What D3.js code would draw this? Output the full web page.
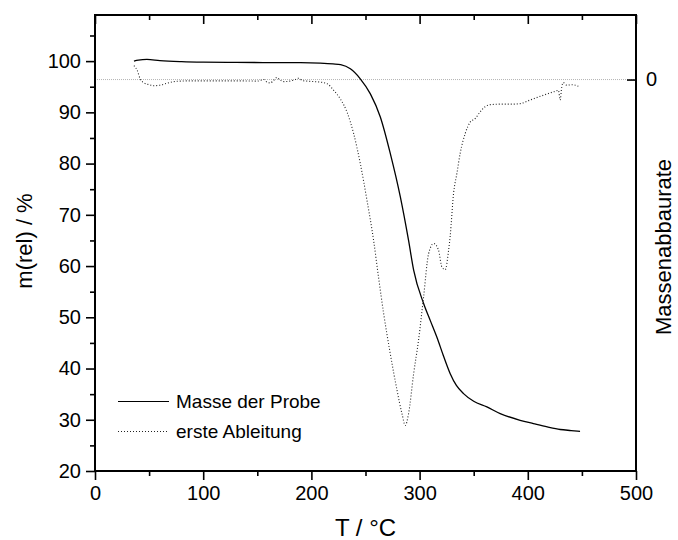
<!DOCTYPE html>
<html><head><meta charset="utf-8">
<script src="https://cdn.jsdelivr.net/npm/d3@7"></script>
<style>
html,body{margin:0;padding:0;background:#fff;}
text{font-family:"Liberation Sans",Arial,sans-serif;fill:#000;}
</style>
</head><body>
<svg id="chart" width="678" height="540"></svg>
<script>
// ---- data ----
const massT = [36, 40, 48, 60, 80, 100, 130, 160, 190, 208, 220, 227, 236, 245, 254.5, 263.7, 273, 282.2, 289.8, 294.5, 303.7, 310, 316, 322, 328.3, 334, 340.6, 350, 362.2, 374.5, 392.9, 405.2, 418, 429.9, 440, 448.3];
const massV = [100.0, 100.2, 100.33, 100.1, 99.9, 99.8, 99.75, 99.72, 99.7, 99.6, 99.45, 99.3, 98.5, 96.6, 93.6, 89.1, 81.9, 73.5, 65.0, 59.2, 52.7, 49.3, 46.1, 42.5, 39.0, 36.7, 35.1, 33.6, 32.5, 31.2, 29.9, 29.25, 28.6, 28.1, 27.9, 27.75];

const derivT = [36, 39, 42, 45, 50, 54.5, 60, 67, 75, 90, 110, 130, 150, 156, 159, 162, 165, 168, 171, 174.5, 180, 185, 188, 192, 196, 203, 208, 214.5, 220.6, 226.8, 233, 239, 245.2, 251.4, 257.5, 262, 266.8, 272.9, 279.1, 283.7, 286.8, 289.8, 294.5, 299, 303.7, 308.3, 313, 317.5, 320.6, 323.7, 326.8, 328.3, 331.4, 334.5, 337.5, 342.2, 346.8, 351.4, 356, 360.6, 365.2, 375, 385, 393, 402, 414.4, 423.7, 428.3, 429.9, 431.4, 432.9, 436, 441, 446.7];
const derivV = [2.7, 1.8, 0.0, -0.6, -1.0, -1.2, -1.1, -0.7, -0.35, -0.25, -0.25, -0.25, -0.3, 0.0, -0.5, -0.65, -0.2, 0.4, -0.1, -0.4, -0.3, 0.0, 0.25, -0.2, -0.3, -0.4, -0.5, -0.8, -2.1, -3.8, -6.4, -10.5, -16.4, -23.6, -31.4, -38.5, -45.7, -53.5, -60.6, -65.2, -67.5, -65.2, -57.4, -50.9, -42.4, -34, -32, -33.3, -36.6, -37.1, -33.3, -30.5, -22.2, -18.3, -14.4, -10.5, -8.3, -7.6, -6.3, -5.3, -4.9, -4.8, -4.8, -4.7, -4.0, -3.06, -2.4, -2.1, -4.0, -1.4, -0.6, -1.1, -1.0, -1.3];

const xMajor = [0, 100, 200, 300, 400, 500];
const xMinor = [50, 150, 250, 350, 450];
const yMajor = [20, 30, 40, 50, 60, 70, 80, 90, 100];
const yMinor = [25, 35, 45, 55, 65, 75, 85, 95, 105];
const rTicks = [0];
const xDomain = [0, 500];
const yDomain = [20, 109];
const rDomain = [-76.4, 12.6];

const xTitle = "T / °C";
const yTitle = "m(rel) / %";
const rTitle = "Massenabbaurate";
const legendLabels = ["Masse der Probe", "erste Ableitung"];

// ---- layout ----
const L = 95, T = 15, R = 636, B = 471;
const svg = d3.select("#chart");
const x = d3.scaleLinear().domain(xDomain).range([L, R]);
const y = d3.scaleLinear().domain(yDomain).range([B, T]);
const yr = d3.scaleLinear().domain(rDomain).range([B, T]);

// zero line of derivative
svg.append("line")
  .attr("x1", L).attr("x2", R)
  .attr("y1", yr(0)).attr("y2", yr(0))
  .attr("stroke", "#b4b4b4").attr("stroke-width", 1)
  .attr("stroke-dasharray", "1,1");

function styleAxis(g, fs) {
  g.select(".domain").remove();
  g.selectAll(".tick line").attr("stroke", "#000").attr("stroke-width", 1.6);
  g.selectAll("text").attr("font-size", fs).attr("font-family", "Liberation Sans, Arial, sans-serif").attr("fill", "#000");
}

// bottom
svg.append("g").attr("transform", `translate(0,${B})`)
  .call(d3.axisBottom(x).tickValues(xMajor).tickSize(9).tickPadding(6).tickFormat(d3.format("d")))
  .call(g => styleAxis(g, 20));
svg.append("g").attr("transform", `translate(0,${B})`)
  .call(d3.axisBottom(x).tickValues(xMinor).tickSize(5).tickFormat(""))
  .call(g => styleAxis(g, 20));
// top (inward)
svg.append("g").attr("transform", `translate(0,${T})`)
  .call(d3.axisTop(x).tickValues(xMajor).tickSize(-9).tickFormat(""))
  .call(g => styleAxis(g, 20));
svg.append("g").attr("transform", `translate(0,${T})`)
  .call(d3.axisTop(x).tickValues(xMinor).tickSize(-5).tickFormat(""))
  .call(g => styleAxis(g, 20));
// left
svg.append("g").attr("transform", `translate(${L},0)`)
  .call(d3.axisLeft(y).tickValues(yMajor).tickSize(9).tickPadding(5).tickFormat(d3.format("d")))
  .call(g => styleAxis(g, 20));
svg.append("g").attr("transform", `translate(${L},0)`)
  .call(d3.axisLeft(y).tickValues(yMinor).tickSize(5).tickFormat(""))
  .call(g => styleAxis(g, 20));
// right
svg.append("g").attr("transform", `translate(${R},0)`)
  .call(d3.axisRight(yr).tickValues(rTicks).tickSize(-9).tickPadding(10).tickFormat(d3.format("d")))
  .call(g => styleAxis(g, 20));

// frame
svg.append("rect").attr("x", L).attr("y", T).attr("width", R - L).attr("height", B - T)
  .attr("fill", "none").attr("stroke", "#000").attr("stroke-width", 2);

// curves
const massData = massT.map((t, i) => ({ t, v: massV[i] }));
const derivData = derivT.map((t, i) => ({ t, v: derivV[i] }));

svg.append("path").datum(massData)
  .attr("fill", "none").attr("stroke", "#000").attr("stroke-width", 1.3)
  .attr("d", d3.line().x(d => x(d.t)).y(d => y(d.v)).curve(d3.curveMonotoneX));

svg.append("path").datum(derivData)
  .attr("fill", "none").attr("stroke", "#222").attr("stroke-width", 1.1)
  .attr("stroke-dasharray", "1,2")
  .attr("d", d3.line().x(d => x(d.t)).y(d => yr(d.v)).curve(d3.curveMonotoneX));

// legend
const lg = svg.append("g");
lg.append("line").attr("x1", 118).attr("x2", 169).attr("y1", 401.5).attr("y2", 401.5)
  .attr("stroke", "#000").attr("stroke-width", 1.2);
lg.append("text").attr("x", 176).attr("y", 408).attr("font-size", 19).text(legendLabels[0]);
lg.append("line").attr("x1", 118).attr("x2", 169).attr("y1", 431.5).attr("y2", 431.5)
  .attr("stroke", "#222").attr("stroke-width", 1.1).attr("stroke-dasharray", "1,2");
lg.append("text").attr("x", 176).attr("y", 438).attr("font-size", 19).text(legendLabels[1]);

// titles
svg.append("text").attr("x", (L + R) / 2).attr("y", 536).attr("text-anchor", "middle")
  .attr("font-size", 24).text(xTitle);
svg.append("text").attr("transform", `translate(32,241) rotate(-90)`).attr("text-anchor", "middle")
  .attr("font-size", 22).text(yTitle);
svg.append("text").attr("transform", `translate(671,247) rotate(-90)`).attr("text-anchor", "middle")
  .attr("font-size", 22).text(rTitle);
</script>
</body></html>
